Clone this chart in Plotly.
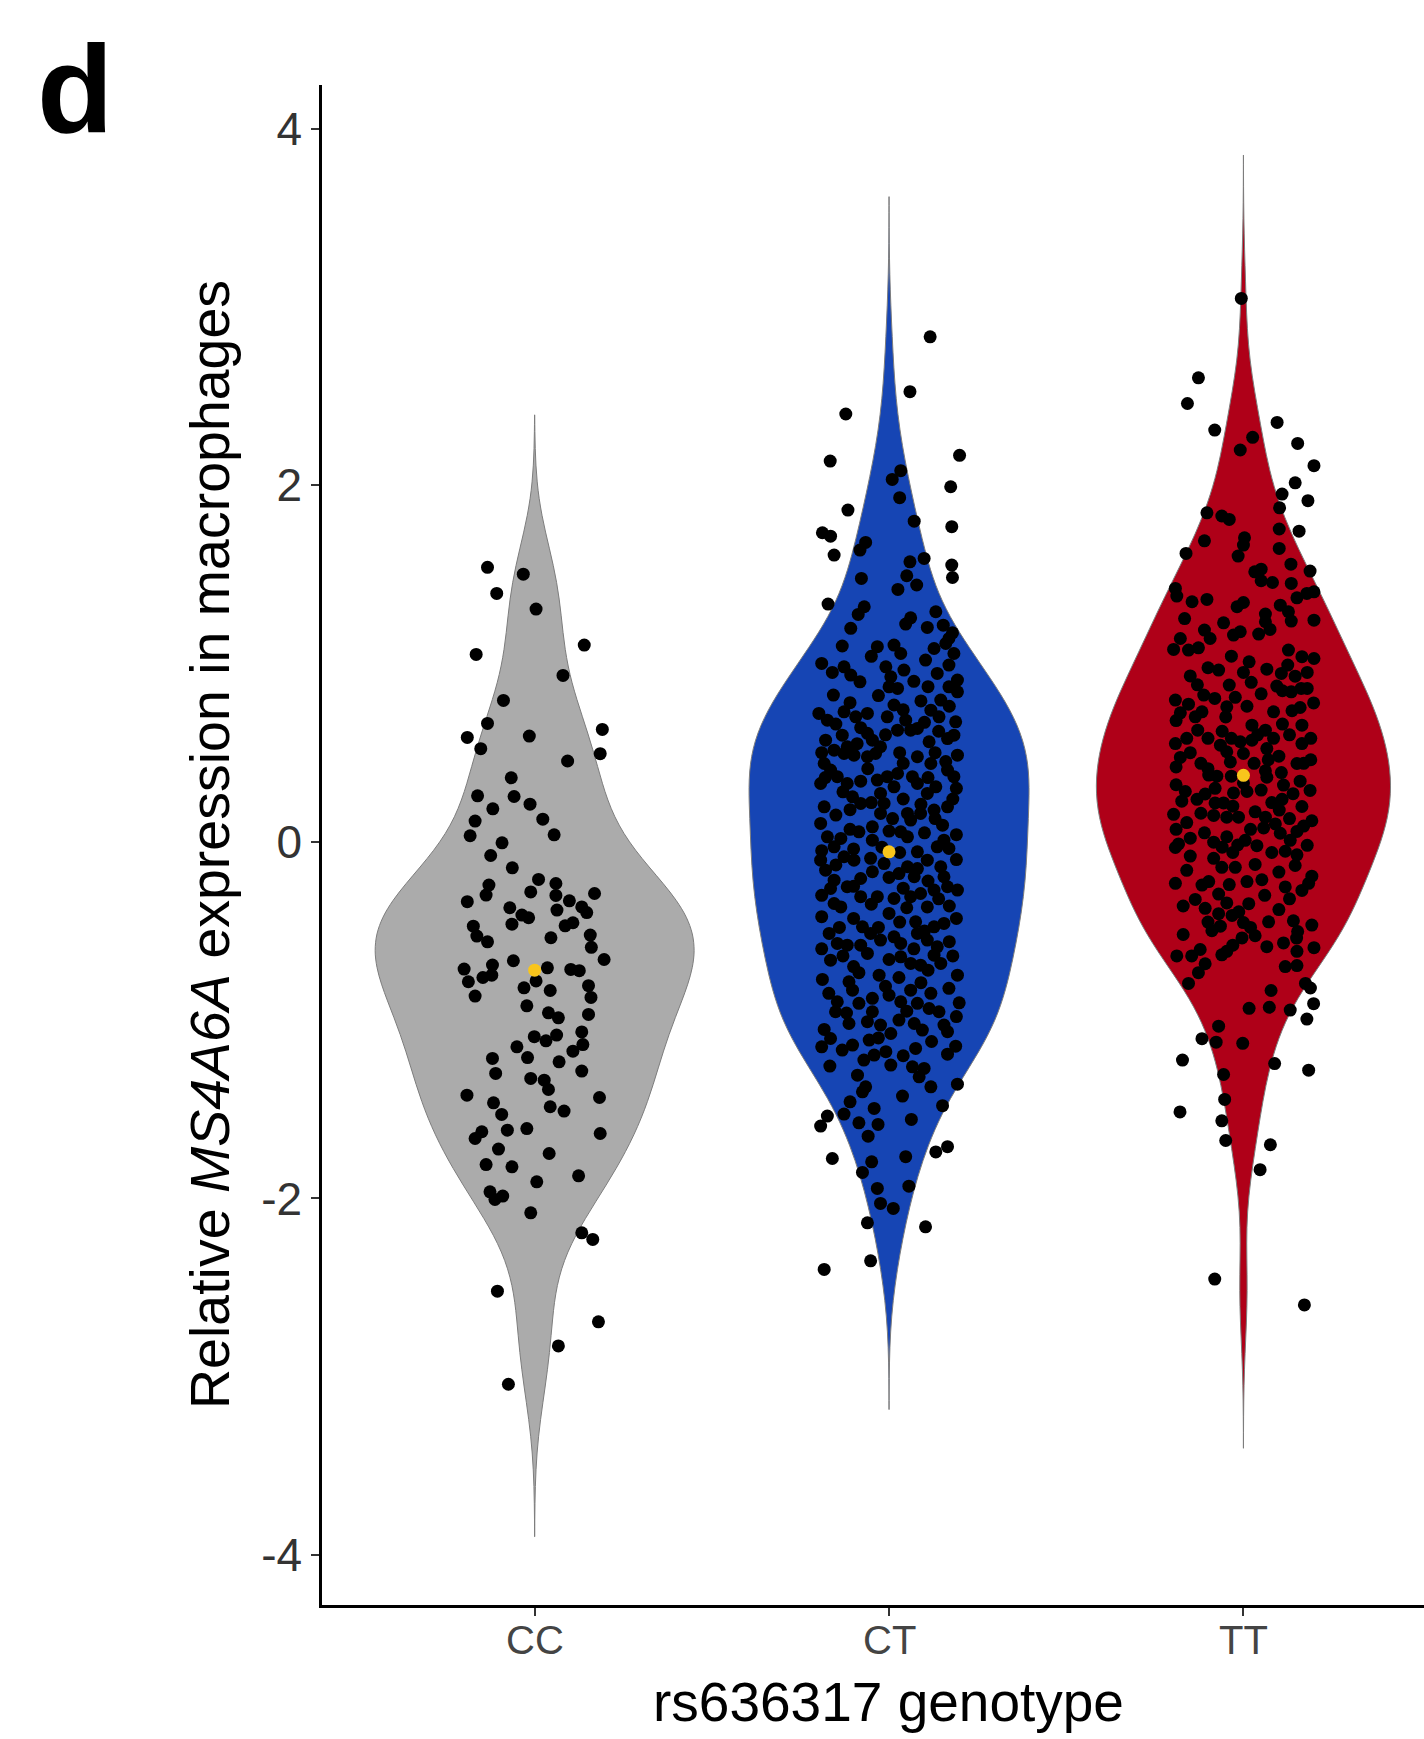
import numpy as np
import plotly.graph_objects as go

# ---------------- data ----------------
genotypes = ["CC", "CT", "TT"]

# (horizontal jitter in category units, relative expression)
cc_obs = [
    (-0.133, 1.539), (-0.032, 1.501), (-0.107, 1.393), (0.004, 1.305), (0.140, 1.103), (-0.165, 1.051),
    (0.080, 0.933), (-0.088, 0.793), (-0.133, 0.664), (0.191, 0.630), (-0.190, 0.585), (-0.015, 0.593),
    (-0.152, 0.522), (0.185, 0.494), (0.093, 0.453), (-0.066, 0.359), (-0.161, 0.258), (-0.058, 0.254),
    (-0.013, 0.211), (-0.118, 0.185), (0.023, 0.127), (-0.168, 0.116), (-0.182, 0.034), (0.055, 0.039),
    (-0.092, -0.006), (-0.124, -0.077), (-0.063, -0.146), (0.011, -0.211), (-0.129, -0.243), (-0.137, -0.299),
    (-0.011, -0.281), (0.060, -0.234), (0.060, -0.301), (0.169, -0.290), (-0.190, -0.336), (0.098, -0.331),
    (-0.070, -0.370), (0.063, -0.383), (-0.036, -0.411), (-0.017, -0.426), (0.133, -0.365), (0.147, -0.397),
    (-0.173, -0.473), (-0.064, -0.462), (0.086, -0.471), (0.108, -0.454), (-0.163, -0.529), (-0.133, -0.561),
    (0.046, -0.538), (0.157, -0.523), (0.160, -0.592),
    (0.196, -0.660), (-0.060, -0.667), (-0.119, -0.691), (-0.199, -0.714), (0.036, -0.707), (0.102, -0.716),
    (0.126, -0.723), (-0.187, -0.785), (-0.146, -0.761), (-0.121, -0.748), (0.004, -0.780), (-0.030, -0.819),
    (0.044, -0.834), (0.152, -0.807), (0.159, -0.873), (-0.168, -0.865), (-0.022, -0.920), (0.039, -0.959),
    (0.067, -0.987), (0.152, -0.968), (0.133, -1.066), (-0.001, -1.093), (0.032, -1.116), (0.062, -1.084),
    (0.136, -1.137), (0.108, -1.174), (-0.050, -1.150), (-0.119, -1.215), (-0.020, -1.210), (0.069, -1.234),
    (-0.110, -1.299), (0.133, -1.286), (-0.011, -1.327), (0.027, -1.337), (0.039, -1.389), (-0.191, -1.421),
    (0.183, -1.434), (-0.116, -1.464), (0.044, -1.486), (0.083, -1.510), (-0.093, -1.529), (-0.077, -1.617),
    (-0.022, -1.608), (-0.149, -1.626), (-0.168, -1.664), (0.185, -1.636), (-0.102, -1.723), (0.041, -1.748),
    (-0.137, -1.810), (-0.064, -1.823), (0.124, -1.873), (0.006, -1.907), (-0.126, -1.963), (-0.112, -2.006),
    (-0.090, -1.987), (-0.011, -2.081), (0.133, -2.193), (0.164, -2.230), (-0.105, -2.520), (0.180, -2.692),
    (0.067, -2.827), (-0.074, -3.042),
]

ct_obs = [
    (0.116, 2.832), (0.059, 2.524), (-0.122, 2.399), (-0.166, 2.135), (0.199, 2.167), (0.033, 2.081),
    (0.009, 2.032), (0.174, 1.991), (0.030, 1.930), (-0.116, 1.860), (0.071, 1.798), (0.177, 1.767),
    (-0.188, 1.733), (-0.165, 1.714), (-0.066, 1.679), (-0.082, 1.636), (-0.155, 1.608), (0.059, 1.570),
    (0.099, 1.589), (0.177, 1.552), (0.179, 1.482), (-0.078, 1.477), (0.050, 1.492), (0.078, 1.440),
    (0.025, 1.415), (-0.172, 1.333), (-0.070, 1.318), (-0.087, 1.275), (0.132, 1.290), (0.061, 1.256),
    (0.047, 1.221), (-0.108, 1.197), (0.108, 1.202), (0.153, 1.215), (0.179, 1.172), (0.169, 1.140),
    (-0.132, 1.098), (-0.033, 1.094), (0.014, 1.103), (0.033, 1.056), (0.127, 1.084), (0.183, 1.056),
    (0.160, 1.112), (-0.127, 0.981), (-0.108, 0.935), (-0.082, 0.897), (-0.009, 0.981), (0.005, 0.925),
    (0.042, 0.963), (0.103, 1.019), (0.136, 0.944), (0.169, 0.991), (0.193, 0.907), (0.024, 0.860),
    (0.000, 0.869), (-0.157, 0.823), (-0.127, 0.729), (-0.198, 0.720), (-0.174, 0.682), (-0.094, 0.701),
    (-0.061, 0.720), (-0.005, 0.701), (0.014, 0.767), (0.047, 0.682), (0.118, 0.738), (0.146, 0.795),
    (0.169, 0.869), (0.193, 0.841), (0.141, 0.701), (0.188, 0.673), (-0.179, 0.570), (-0.132, 0.598),
    (-0.155, 0.514), (-0.118, 0.533), (-0.061, 0.608), (-0.047, 0.570), (-0.024, 0.533), (0.061, 0.626),
    (0.080, 0.636), (0.024, 0.626), (0.113, 0.561), (0.165, 0.579), (0.183, 0.598), (-0.183, 0.439),
    (-0.165, 0.402), (-0.127, 0.495), (-0.099, 0.486), (-0.061, 0.477), (-0.038, 0.495), (0.080, 0.477),
    (0.118, 0.439), (0.193, 0.486), (-0.193, 0.327), (-0.146, 0.365), (-0.118, 0.327), (-0.033, 0.346),
    (-0.005, 0.365), (0.024, 0.383), (0.014, 0.308), (0.066, 0.365), (0.080, 0.327), (0.165, 0.402),
    (0.183, 0.365), (0.108, 0.271), (0.132, 0.308), (-0.183, 0.196), (-0.103, 0.252), (-0.080, 0.215),
    (-0.024, 0.271), (-0.014, 0.215), (0.052, 0.159), (-0.024, 0.159), (0.165, 0.196), (0.127, 0.178),
    (0.089, 0.159), (0.061, 0.122), (-0.193, 0.103), (-0.174, 0.028), (-0.136, 0.019), (-0.155, -0.028),
    (-0.085, 0.056), (-0.047, 0.084), (-0.047, 0.009), (0.033, 0.056), (0.052, 0.028), (0.151, 0.093),
    (0.155, 0.009), (0.136, -0.028), (0.169, -0.037), (0.080, -0.056), (-0.193, -0.103), (-0.179, -0.159),
    (-0.127, -0.084), (-0.099, -0.103), (-0.052, -0.093), (-0.047, -0.168), (-0.014, -0.122), (0.028, -0.178),
    (0.052, -0.140), (0.071, -0.196), (0.108, -0.103), (0.146, -0.140), (0.155, -0.196), (-0.080, -0.206),
    (-0.155, -0.215), (-0.165, -0.262), (-0.118, -0.252), (-0.080, -0.308), (-0.033, -0.308), (0.014, -0.318),
    (0.061, -0.308), (0.089, -0.290), (0.127, -0.271), (0.165, -0.252), (0.193, -0.271), (-0.155, -0.346),
    (-0.136, -0.365), (0.108, -0.365), (0.000, -0.402), (-0.169, -0.514), (-0.146, -0.570), (-0.118, -0.580),
    (-0.075, -0.477), (-0.052, -0.514), (-0.024, -0.551), (0.014, -0.533), (0.033, -0.570), (0.075, -0.449),
    (0.080, -0.514), (0.127, -0.477), (0.155, -0.458), (0.108, -0.551), (0.136, -0.589), (-0.165, -0.664),
    (-0.061, -0.626), (0.033, -0.645), (0.061, -0.682), (0.089, -0.692), (0.127, -0.636), (0.146, -0.682),
    (-0.188, -0.772), (-0.085, -0.734), (-0.028, -0.748), (0.028, -0.761), (-0.113, -0.785), (-0.103, -0.832),
    (0.061, -0.832), (0.118, -0.850), (0.169, -0.822), (0.193, -0.748), (0.198, -0.903), (-0.146, -0.897),
    (-0.151, -0.953), (-0.085, -0.906), (-0.047, -0.878), (0.000, -0.860), (0.033, -0.897), (0.080, -0.906),
    (0.113, -0.935), (0.141, -0.953), (-0.047, -0.953), (-0.113, -1.019), (-0.061, -1.009), (-0.024, -1.028),
    (0.028, -1.000), (0.071, -1.019), (0.094, -1.056), (0.155, -1.028), (0.165, -1.065), (-0.183, -1.052),
    (-0.165, -1.103), (0.005, -1.075), (-0.056, -1.112), (-0.103, -1.140), (-0.132, -1.168), (0.075, -1.159),
    (0.188, -1.146), (0.165, -1.191), (-0.167, -1.258), (-0.071, -1.224), (-0.042, -1.196), (-0.009, -1.177),
    (0.005, -1.252), (0.066, -1.262), (0.099, -1.271), (-0.089, -1.309), (0.085, -1.318), (0.118, -1.374),
    (0.193, -1.359), (-0.066, -1.374), (-0.075, -1.402), (0.038, -1.426), (-0.110, -1.458), (0.151, -1.480),
    (-0.174, -1.538), (-0.193, -1.594), (-0.127, -1.527), (-0.042, -1.495), (-0.085, -1.576), (-0.031, -1.585),
    (0.063, -1.557), (-0.059, -1.651), (0.132, -1.739), (0.165, -1.710), (-0.160, -1.776), (-0.049, -1.795),
    (0.047, -1.766), (-0.075, -1.854), (-0.033, -1.944), (0.056, -1.931), (-0.024, -2.028), (0.012, -2.056),
    (-0.061, -2.137), (0.103, -2.159), (-0.052, -2.350), (-0.183, -2.398),
    # densely packed core, second reading
    (-0.190, 1.000), (-0.160, 0.950), (-0.050, 1.040), (0.070, 0.900), (0.110, 0.870), (-0.030, 0.820),
    (0.090, 0.790), (-0.110, 0.780), (0.170, 0.760), (0.040, 0.740), (-0.150, 0.660), (-0.080, 0.640),
    (0.100, 0.670), (-0.010, 0.600), (0.140, 0.620), (-0.190, 0.500), (-0.090, 0.550), (0.030, 0.500),
    (0.130, 0.500), (0.160, 0.450), (-0.060, 0.410), (0.040, 0.440), (-0.180, 0.360), (-0.080, 0.340),
    (0.110, 0.360), (0.190, 0.300), (-0.130, 0.280), (-0.050, 0.220), (0.040, 0.240), (0.090, 0.210),
    (0.180, 0.240), (-0.150, 0.150), (-0.110, 0.180), (0.010, 0.130), (0.130, 0.130), (-0.110, 0.070),
    (0.000, 0.060), (0.100, 0.050), (0.190, 0.040), (-0.020, -0.030), (0.030, -0.060), (-0.190, -0.050),
    (-0.100, -0.040), (0.190, -0.100), (-0.150, -0.130), (0.080, -0.150), (0.000, -0.200), (0.110, -0.220),
    (-0.100, -0.250), (0.040, -0.260), (-0.190, -0.300), (0.140, -0.320), (-0.050, -0.350), (0.050, -0.370),
    (0.170, -0.360), (-0.190, -0.420), (-0.100, -0.430), (0.030, -0.450), (0.190, -0.430), (-0.140, -0.480),
    (0.100, -0.500), (-0.030, -0.480), (-0.190, -0.600), (-0.080, -0.580), (0.070, -0.600), (0.170, -0.560),
    (-0.130, -0.640), (0.000, -0.660), (0.180, -0.640), (-0.100, -0.700), (0.110, -0.720), (-0.170, -0.850),
    (-0.010, -0.810), (0.090, -0.790), (-0.120, -0.960), (0.050, -0.950), (0.190, -0.980), (-0.030, -1.100),
    (0.120, -1.120), (-0.190, -1.150), (0.040, -1.200),
]

tt_obs = [
    (-0.006, 3.047), (-0.127, 2.602), (-0.158, 2.458), (-0.081, 2.309), (0.095, 2.352), (0.026, 2.268),
    (-0.009, 2.197), (0.153, 2.234), (0.199, 2.109), (0.146, 2.013), (0.182, 1.913), (0.109, 1.950),
    (0.102, 1.873), (-0.103, 1.845), (-0.061, 1.827), (-0.040, 1.808), (0.101, 1.754), (0.157, 1.742),
    (-0.110, 1.688), (0.003, 1.705), (0.000, 1.664), (-0.162, 1.617), (0.101, 1.645), (-0.015, 1.602),
    (0.134, 1.557), (0.188, 1.518), (0.032, 1.514), (0.050, 1.529), (0.050, 1.464), (0.082, 1.454),
    (0.135, 1.449), (-0.192, 1.421), (-0.188, 1.378), (-0.145, 1.346), (-0.103, 1.359), (0.151, 1.368),
    (0.179, 1.393), (0.199, 1.402), (-0.018, 1.318), (0.000, 1.342), (0.104, 1.327), (0.127, 1.290),
    (-0.166, 1.252), (-0.056, 1.228), (0.062, 1.277), (0.062, 1.234), (0.075, 1.191), (0.135, 1.238),
    (0.199, 1.243), (-0.110, 1.187), (-0.094, 1.140), (-0.178, 1.140), (-0.197, 1.079), (-0.155, 1.075),
    (-0.127, 1.088), (-0.028, 1.159), (-0.009, 1.178), (0.043, 1.165), (-0.034, 1.041), (0.016, 1.009),
    (0.127, 1.075), (0.165, 1.038), (0.199, 1.028), (-0.100, 0.976), (-0.070, 0.963), (0.066, 0.968),
    (0.107, 0.944), (0.125, 0.991), (0.146, 0.929), (-0.040, 0.879), (0.022, 0.894), (0.094, 0.873),
    (0.110, 0.847), (0.135, 0.841), (0.163, 0.860), (-0.112, 0.823), (-0.192, 0.795), (-0.155, 0.772),
    (-0.081, 0.804), (-0.047, 0.757), (-0.023, 0.810), (-0.178, 0.723), (-0.136, 0.701), (-0.117, 0.729),
    (-0.129, 0.626), (0.085, 0.729), (0.137, 0.735), (0.160, 0.753), (0.198, 0.779), (0.024, 0.654),
    (0.165, 0.654), (0.062, 0.626), (0.085, 0.580), (-0.192, 0.551), (-0.178, 0.473), (-0.065, 0.542),
    (-0.034, 0.580), (-0.009, 0.561), (0.024, 0.570), (-0.047, 0.505), (0.000, 0.495), (0.165, 0.551),
    (0.066, 0.523), (0.151, 0.439), (-0.100, 0.410),
    (-0.037, 0.448), (-0.098, 0.374), (-0.075, 0.368), (-0.034, 0.368), (0.062, 0.398), (0.066, 0.362),
    (0.107, 0.388), (0.113, 0.318), (-0.164, 0.282), (-0.174, 0.228), (-0.131, 0.238), (-0.108, 0.268),
    (-0.197, 0.154), (-0.160, 0.108), (-0.080, 0.218), (-0.056, 0.218), (-0.028, 0.274), (0.010, 0.282),
    (-0.084, 0.148), (-0.047, 0.138), (-0.014, 0.138), (0.033, 0.168), (0.062, 0.138), (0.101, 0.178),
    (0.109, 0.238), (0.165, 0.198), (0.188, 0.288), (0.193, 0.118), (0.170, 0.088), (0.057, 0.078),
    (0.104, 0.048), (0.132, 0.008), (0.151, 0.058), (-0.192, -0.032), (-0.183, -0.012), (-0.084, -0.002),
    (-0.047, 0.028), (-0.016, -0.018), (0.005, 0.008), (0.038, -0.022), (0.118, -0.053), (0.151, -0.073),
    (-0.084, -0.093), (-0.061, -0.143), (-0.023, -0.143), (0.033, -0.127), (0.146, -0.133), (-0.192, -0.233),
    (-0.117, -0.243), (-0.098, -0.223), (0.010, -0.223), (0.052, -0.213), (0.118, -0.253), (0.165, -0.273),
    (0.193, -0.193), (0.184, -0.233), (-0.136, -0.323), (-0.108, -0.373), (-0.070, -0.293), (-0.047, -0.343),
    (-0.070, -0.403), (-0.032, -0.413), (-0.013, -0.393), (0.015, -0.347), (0.000, -0.453), (-0.089, -0.499),
    (-0.065, -0.473), (-0.004, -0.539), (0.033, -0.527), (0.071, -0.449), (0.066, -0.588), (0.113, -0.567),
    (0.141, -0.443), (0.153, -0.503), (0.193, -0.467), (0.199, -0.594), (0.151, -0.614), (-0.188, -0.640),
    (-0.146, -0.640), (-0.122, -0.604), (-0.108, -0.684), (-0.127, -0.734), (-0.155, -0.794), (-0.061, -0.634),
    (-0.047, -0.614), (0.118, -0.700), (0.151, -0.694), (0.175, -0.794), (0.189, -0.820), (0.198, -0.908),
    (0.179, -0.994), (0.078, -0.834), (0.016, -0.934), (0.073, -0.928), (0.132, -0.944), (-0.070, -1.034),
    (-0.117, -1.104), (-0.077, -1.124), (-0.002, -1.130), (-0.172, -1.224), (0.088, -1.244), (0.184, -1.281),
    (-0.056, -1.305), (-0.053, -1.445), (-0.179, -1.515), (-0.061, -1.565), (-0.050, -1.675), (0.076, -1.699),
    (0.047, -1.839), (-0.081, -2.452), (0.172, -2.597),
    # densely packed core, second reading
    (-0.150, 0.930), (0.000, 0.950), (0.180, 0.950), (-0.130, 0.880), (0.050, 0.830), (0.180, 0.860),
    (-0.190, 0.680), (-0.050, 0.700), (0.010, 0.760), (0.110, 0.660), (-0.100, 0.580), (0.040, 0.600),
    (0.190, 0.580), (-0.150, 0.500), (0.100, 0.480), (0.190, 0.460), (-0.120, 0.440), (0.030, 0.440),
    (-0.190, 0.320), (0.000, 0.330), (0.160, 0.340), (-0.120, 0.160), (0.080, 0.220), (-0.030, 0.200),
    (-0.190, 0.070), (-0.110, 0.050), (0.020, 0.070), (0.130, 0.130), (0.180, -0.020), (-0.150, -0.080),
    (0.080, -0.060), (-0.030, -0.060), (-0.160, -0.160), (0.100, -0.170), (-0.040, -0.240), (0.130, -0.320),
    (-0.170, -0.360), (0.060, -0.300), (-0.100, -0.450), (0.100, -0.380), (0.020, -0.480), (-0.170, -0.520),
    (0.150, -0.540), (-0.030, -0.580), (-0.160, 0.580), (-0.060, 0.620), (0.130, 0.600), (-0.190, 0.420),
    (0.070, 0.460), (-0.080, 0.300), (0.050, 0.290), (0.140, 0.270), (-0.150, 0.020), (0.090, 0.100),
    (-0.060, -0.030), (0.170, 0.440),
]

group_means = [-0.72, -0.056, 0.373]
kde_bandwidth = [0.285, 0.262, 0.268]
y_ticks = [-4, -2, 0, 2, 4]

# ---------------- style ----------------
fill_colors = ["#ABABAB", "#1645B4", "#AF0018"]
violin_widths = [0.90, 0.79, 0.83]
outline_color = "#7d7d7d"
mean_color = "#F8C51C"
font_family = "Liberation Sans, Arial, Helvetica, sans-serif"
dot_size = 13

W, H = 1424, 1739
L, R, T, B = 322, 0, 85, 134
px_per_cat = 354.4
x_range = [0.4, 0.4 + (W - L - R) / px_per_cat]
y_range = [-4.28, 4.244]

fig = go.Figure()
for i, (g, obs) in enumerate(zip(genotypes, [cc_obs, ct_obs, tt_obs])):
    xpos = i + 1
    jit = np.array([o[0] for o in obs])
    vals = np.array([o[1] for o in obs])
    bw = kde_bandwidth[i]
    fig.add_trace(go.Violin(
        x0=xpos, y=vals, name=g, bandwidth=bw, spanmode="manual",
        span=[vals.min() - 3 * bw, vals.max() + 3 * bw],
        width=violin_widths[i], scalemode="width",
        fillcolor=fill_colors[i], opacity=1,
        line=dict(color=outline_color, width=1),
        points=False, box_visible=False, meanline_visible=False,
        hoverinfo="skip", showlegend=False,
    ))
    fig.add_trace(go.Scatter(
        x=xpos + jit, y=vals, mode="markers",
        marker=dict(color="black", size=dot_size, line=dict(width=0)),
        showlegend=False, hoverinfo="skip",
    ))
    fig.add_trace(go.Scatter(
        x=[xpos], y=[group_means[i]], mode="markers",
        marker=dict(color=mean_color, size=dot_size, line=dict(width=0)),
        showlegend=False, hoverinfo="skip",
    ))

plot_w = W - L - R
plot_h = H - T - B

def px_x(p):
    return (p - L) / plot_w

def px_y(p):
    return (H - B - p) / plot_h

annotations = [
    dict(text="<b>d</b>", xref="paper", yref="paper", x=px_x(35), y=px_y(88),
         xanchor="left", yanchor="middle", showarrow=False,
         font=dict(size=125, color="black", family=font_family)),
    dict(text="rs636317 genotype", xref="paper", yref="paper", x=px_x(888), y=px_y(1702),
         xanchor="center", yanchor="middle", showarrow=False,
         font=dict(size=55, color="black", family=font_family)),
    dict(text="Relative <i>MS4A6A</i> expression in macrophages", xref="paper", yref="paper",
         x=px_x(210), y=px_y(845), textangle=-90,
         xanchor="center", yanchor="middle", showarrow=False,
         font=dict(size=55.5, color="black", family=font_family)),
]
# category tick labels
for i, g in enumerate(genotypes):
    annotations.append(dict(
        text=g, xref="x", yref="paper", x=i + 1, y=px_y(1640),
        xanchor="center", yanchor="middle", showarrow=False,
        font=dict(size=40, color="#444444", family=font_family)))

fig.update_layout(
    width=W, height=H,
    margin=dict(l=L, r=R, t=T, b=B, pad=0),
    paper_bgcolor="white", plot_bgcolor="white",
    violinmode="overlay",
    font=dict(family=font_family, color="black"),
    xaxis=dict(
        range=x_range, tickvals=[1, 2, 3], ticktext=genotypes, showticklabels=False,
        showline=True, linecolor="black", linewidth=2.5,
        ticks="outside", ticklen=8, tickwidth=2, tickcolor="#333333",
        showgrid=False, zeroline=False, fixedrange=True,
    ),
    yaxis=dict(
        range=y_range, tickvals=y_ticks, ticktext=[str(v) for v in y_ticks],
        showline=True, linecolor="black", linewidth=2.5,
        ticks="outside", ticklen=8, tickwidth=2, tickcolor="#333333",
        tickfont=dict(size=46, color="#333333", family=font_family),
        showgrid=False, zeroline=False, fixedrange=True,
    ),
    annotations=annotations,
)

fig.write_html("out.html")
